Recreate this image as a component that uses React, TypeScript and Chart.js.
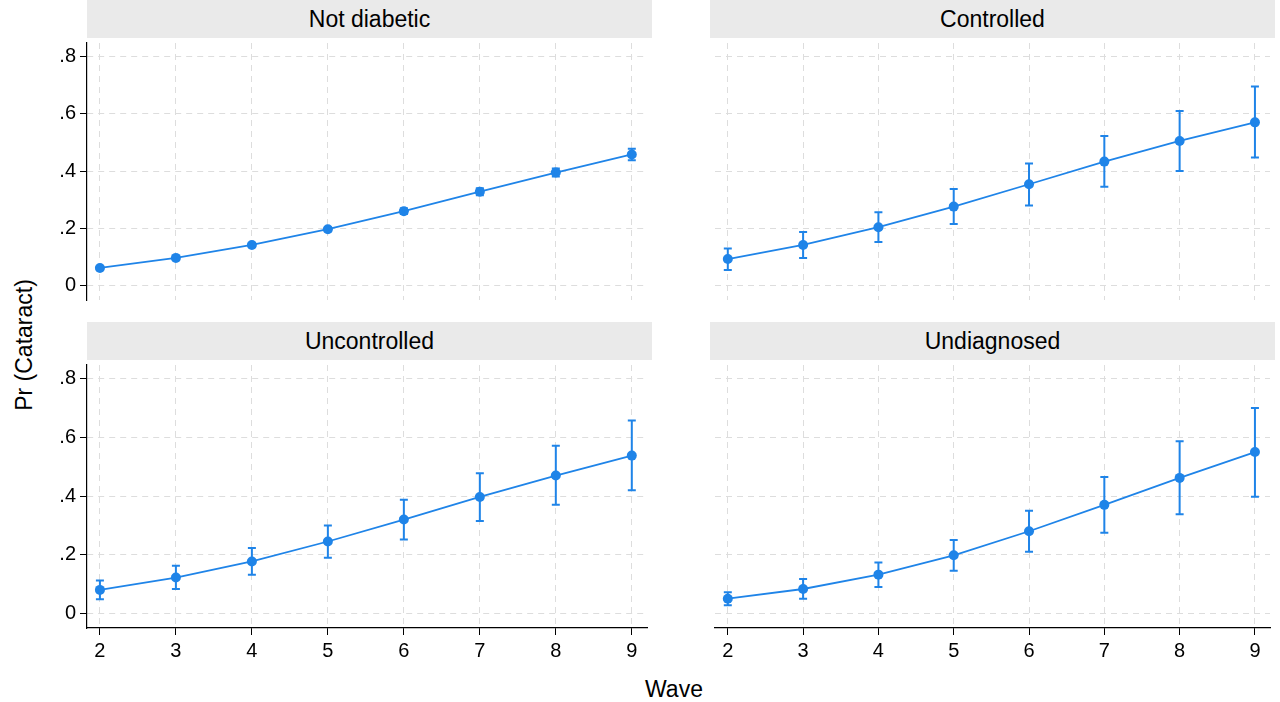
import React, { useEffect, useRef } from "react";
import { Chart, registerables } from "chart.js";
Chart.register(...registerables);

const waves = [2, 3, 4, 5, 6, 7, 8, 9];
const yTicks = [0, 0.2, 0.4, 0.6, 0.8];
const yTickLabels = ["0", ".2", ".4", ".6", ".8"];
const panelTitles = ["Not diabetic", "Controlled", "Uncontrolled", "Undiagnosed"];

const notDiabetic = [0.062, 0.097, 0.142, 0.197, 0.26, 0.328, 0.395, 0.458];
const notDiabeticLo = [0.058, 0.092, 0.136, 0.19, 0.25, 0.316, 0.381, 0.438];
const notDiabeticHi = [0.066, 0.102, 0.148, 0.204, 0.27, 0.34, 0.409, 0.478];

const controlled = [0.093, 0.142, 0.204, 0.276, 0.354, 0.433, 0.505, 0.57];
const controlledLo = [0.055, 0.097, 0.152, 0.215, 0.28, 0.345, 0.4, 0.447];
const controlledHi = [0.13, 0.187, 0.256, 0.337, 0.426, 0.522, 0.61, 0.695];

const uncontrolled = [0.08, 0.122, 0.177, 0.245, 0.32, 0.397, 0.47, 0.538];
const uncontrolledLo = [0.048, 0.083, 0.132, 0.19, 0.252, 0.315, 0.37, 0.42];
const uncontrolledHi = [0.112, 0.162, 0.223, 0.3, 0.387, 0.478, 0.572, 0.658];

const undiagnosed = [0.05, 0.083, 0.132, 0.198, 0.28, 0.37, 0.462, 0.55];
const undiagnosedLo = [0.028, 0.05, 0.09, 0.145, 0.21, 0.275, 0.338, 0.398];
const undiagnosedHi = [0.072, 0.117, 0.173, 0.25, 0.35, 0.465, 0.587, 0.7];

const series = [
  [notDiabetic, notDiabeticLo, notDiabeticHi],
  [controlled, controlledLo, controlledHi],
  [uncontrolled, uncontrolledLo, uncontrolledHi],
  [undiagnosed, undiagnosedLo, undiagnosedHi],
];

const BLUE = "#1f84e8";
const FONT = "'Liberation Sans', Arial, sans-serif";

function Panel({ idx, left, top, width, height }: any) {
  const ref = useRef<HTMLCanvasElement>(null);
  const isLeft = idx % 2 === 0;
  const isBottom = idx >= 2;
  useEffect(() => {
    const [vals, lo, hi] = series[idx];
    const errPlugin = {
      id: "err",
      afterDatasetsDraw(chart: any) {
        const { ctx, scales } = chart;
        ctx.save();
        ctx.strokeStyle = BLUE;
        ctx.lineWidth = 2;
        waves.forEach((w, i) => {
          const x = scales.x.getPixelForValue(w);
          const y1 = scales.y.getPixelForValue(lo[i]);
          const y2 = scales.y.getPixelForValue(hi[i]);
          ctx.beginPath();
          ctx.moveTo(x, y1); ctx.lineTo(x, y2);
          ctx.moveTo(x - 4, y1); ctx.lineTo(x + 4, y1);
          ctx.moveTo(x - 4, y2); ctx.lineTo(x + 4, y2);
          ctx.stroke();
        });
        ctx.restore();
      },
    };
    const chart = new Chart(ref.current!, {
      type: "line",
      data: {
        datasets: [{
          data: waves.map((w, i) => ({ x: w, y: vals[i] })),
          borderColor: BLUE, backgroundColor: BLUE, borderWidth: 1.8,
          pointRadius: 5, pointBorderWidth: 0, tension: 0,
        }],
      },
      plugins: [errPlugin],
      options: {
        animation: false, responsive: false, maintainAspectRatio: false,
        layout: { padding: 0 },
        plugins: { legend: { display: false }, tooltip: { enabled: false } },
        scales: {
          x: {
            type: "linear", min: 1.83, max: 9.2,
            afterBuildTicks: (s: any) => { s.ticks = waves.map((v) => ({ value: v })); },
            afterFit: (s: any) => { s.height = isBottom ? 37 : 0; s.paddingLeft = 0; s.paddingRight = 0; },
            ticks: { display: isBottom, color: "#000", font: { size: 20, family: FONT }, padding: 4 },
            grid: { color: "#dddddd", drawTicks: isBottom, tickLength: 7, tickColor: "#000", tickBorderDash: [] } as any,
            border: { display: isBottom, color: "#000", width: 1.2, dash: [6, 5] },
          },
          y: {
            type: "linear", min: -0.05, max: 0.847,
            afterBuildTicks: (s: any) => { s.ticks = yTicks.map((v) => ({ value: v })); },
            afterFit: (s: any) => { s.width = isLeft ? 47 : 0; s.paddingTop = 0; s.paddingBottom = 0; },
            ticks: {
              display: isLeft, color: "#000", font: { size: 20, family: FONT }, padding: 4,
              callback: (v: any) => { const i = yTicks.findIndex((t) => Math.abs(t - v) < 1e-6); return i >= 0 ? yTickLabels[i] : ""; },
            },
            grid: { color: "#dddddd", drawTicks: isLeft, tickLength: 7, tickColor: "#000", tickBorderDash: [] } as any,
            border: { display: isLeft, color: "#000", width: 1.2, dash: [6, 5] },
          },
        },
      } as any,
    });
    return () => chart.destroy();
  }, []);
  return <canvas ref={ref} width={width} height={height} style={{ position: "absolute", left, top, width, height }} />;
}

export default function App() {
  const headers = [
    { left: 87, top: 0, w: 565 }, { left: 710, top: 0, w: 565 },
    { left: 87, top: 322, w: 565 }, { left: 710, top: 322, w: 565 },
  ];
  return (
    <div style={{ position: "absolute", left: 0, top: 0, width: 1280, height: 702, background: "#fff", fontFamily: FONT, overflow: "hidden" }}>
      {headers.map((h, i) => (
        <div key={i} style={{ position: "absolute", left: h.left, top: h.top, width: h.w, height: 38, background: "#eaeaea", fontSize: 23, lineHeight: "38px", textAlign: "center", color: "#000" }}>
          {panelTitles[i]}
        </div>
      ))}
      <Panel idx={0} left={40} top={38} width={612} height={267} />
      <Panel idx={1} left={710} top={38} width={565} height={267} />
      <Panel idx={2} left={40} top={360} width={612} height={305} />
      <Panel idx={3} left={710} top={360} width={565} height={305} />
      <span style={{ position: "absolute", left: 645, top: 676, fontSize: 23, color: "#000" }}>Wave</span>
      <div style={{ position: "absolute", left: 12, top: 345, transform: "translate(-50%, -50%) rotate(-90deg)", transformOrigin: "center", whiteSpace: "nowrap", fontSize: 23, color: "#000", marginLeft: 12 }}>
        Pr (Cataract)
      </div>
    </div>
  );
}
